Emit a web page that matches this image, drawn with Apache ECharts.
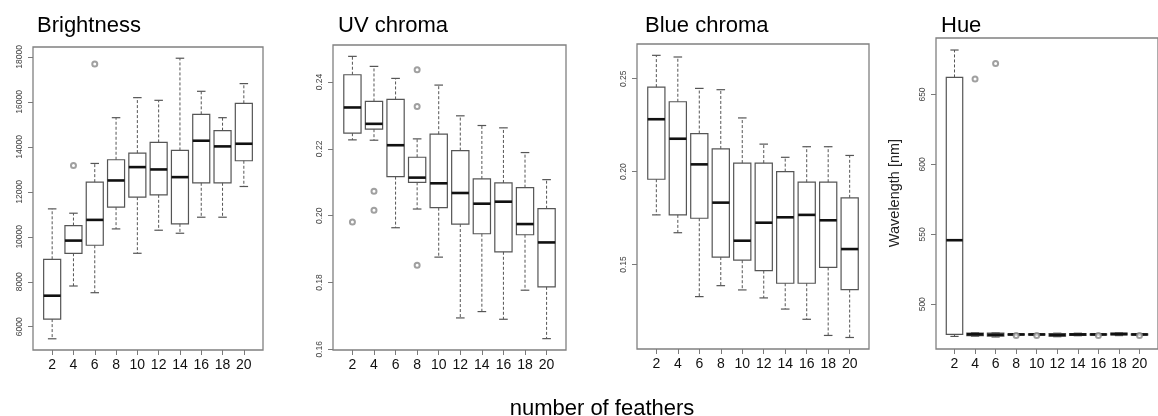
<!DOCTYPE html>
<html>
<head>
<meta charset="utf-8">
<script src="https://cdn.jsdelivr.net/npm/echarts@6/dist/echarts.min.js"></script>
<style>
html,body{margin:0;padding:0;background:#fff;}
#chart{width:1158px;height:416px;}
</style>
</head>
<body>
<div id="chart"></div>
<script>
// number of feathers (x categories)
const feathers = ['2','4','6','8','10','12','14','16','18','20'];

// Box statistics per category: [lower whisker, Q1, median, Q3, upper whisker]
const brightnessStats = [
  [5465, 6341, 7381, 9000, 11242],
  [7812, 9267, 9831, 10500, 11049],
  [7514, 9623, 10752, 12430, 13262],
  [10351, 11317, 12505, 13426, 15297],
  [9267, 11762, 13099, 13723, 16188],
  [10292, 11866, 12995, 14198, 16069],
  [10158, 10574, 12653, 13841, 17941],
  [10871, 12401, 14272, 15445, 16470],
  [10871, 12401, 14020, 14718, 15297],
  [12237, 13381, 14138, 15936, 16812]
];
// outliers: [category index (1-based), value]
const brightnessOutliers = [[2, 13173], [3, 17688]];

const uvStats = [
  [0.2227, 0.2247, 0.2324, 0.2422, 0.2477],
  [0.2226, 0.2259, 0.2275, 0.2342, 0.2447],
  [0.1964, 0.2117, 0.2211, 0.2348, 0.2411],
  [0.2020, 0.2100, 0.2114, 0.2175, 0.2230],
  [0.1876, 0.2024, 0.2097, 0.2244, 0.2391],
  [0.1694, 0.1975, 0.2068, 0.2195, 0.2299],
  [0.1713, 0.1946, 0.2036, 0.2110, 0.2270],
  [0.1690, 0.1892, 0.2042, 0.2098, 0.2263],
  [0.1777, 0.1943, 0.1975, 0.2084, 0.2189],
  [0.1632, 0.1787, 0.1920, 0.2021, 0.2108]
];
const uvOutliers = [[1, 0.1981], [2, 0.2073], [2, 0.2016], [4, 0.2437], [4, 0.2327], [4, 0.1852]];

const blueStats = [
  [0.1767, 0.1959, 0.2282, 0.2455, 0.2626],
  [0.1671, 0.1767, 0.2177, 0.2376, 0.2617],
  [0.1327, 0.1749, 0.2039, 0.2205, 0.2448],
  [0.1386, 0.1540, 0.1833, 0.2122, 0.2441],
  [0.1363, 0.1523, 0.1628, 0.2046, 0.2289],
  [0.1320, 0.1467, 0.1725, 0.2046, 0.2148],
  [0.1260, 0.1399, 0.1754, 0.2000, 0.2077],
  [0.1205, 0.1399, 0.1767, 0.1943, 0.2134],
  [0.1118, 0.1484, 0.1738, 0.1943, 0.2134],
  [0.1107, 0.1365, 0.1583, 0.1859, 0.2087]
];
const blueOutliers = [];

const hueStats = [
  [477.0, 478.5, 545.8, 662.2, 681.8],
  [477.2, 477.6, 478.5, 479.4, 479.6],
  [476.6, 477.2, 478.2, 479.3, 479.5],
  [477.8, 478.0, 478.4, 478.8, 479.0],
  [477.8, 478.0, 478.4, 478.8, 479.0],
  [476.8, 477.2, 478.0, 479.0, 479.3],
  [477.5, 477.8, 478.4, 479.1, 479.3],
  [477.8, 478.0, 478.4, 478.8, 479.0],
  [477.6, 478.0, 478.7, 479.3, 479.5],
  [477.8, 478.0, 478.4, 478.8, 479.0]
];
const hueOutliers = [[2, 661.0], [3, 672.2], [4, 477.6], [5, 477.6], [8, 477.6], [10, 477.6]];

// Axis tick values
const brightnessTicks = [6000, 8000, 10000, 12000, 14000, 16000, 18000];
const uvTicks = [0.16, 0.18, 0.20, 0.22, 0.24];
const blueTicks = [0.15, 0.20, 0.25];
const hueTicks = [500, 550, 600, 650];

const panelTitles = ['Brightness', 'UV chroma', 'Blue chroma', 'Hue'];

const FONT = '"Liberation Sans", Arial, sans-serif';
const BOXCOL = '#555';
const AXCOL = '#7a7a7a';

const grids = [
  {left: 33, top: 47, width: 230, height: 303},
  {left: 333, top: 45, width: 233, height: 305},
  {left: 637, top: 44, width: 232, height: 305},
  {left: 936, top: 38, width: 229, height: 311}
];
const yRanges = [[4966, 18440], [0.1598, 0.2511], [0.1045, 0.2687], [468.0, 690.4]];
const yTickSets = [brightnessTicks, uvTicks, blueTicks, hueTicks];
const yFmt = [v => String(v), v => v.toFixed(2), v => v.toFixed(2), v => String(v)];
const statsSets = [brightnessStats, uvStats, blueStats, hueStats];
const outlierSets = [brightnessOutliers, uvOutliers, blueOutliers, hueOutliers];
const catIdx = feathers.map((f, i) => i + 1);

function renderBox(params, api) {
  const x = api.value(0);
  const pLow = api.coord([x, api.value(1)]);
  const pQ1 = api.coord([x, api.value(2)]);
  const pMed = api.coord([x, api.value(3)]);
  const pQ3 = api.coord([x, api.value(4)]);
  const pHigh = api.coord([x, api.value(5)]);
  const w = api.size([0.8, 0])[0];
  const cx = pLow[0];
  const half = w / 2, cap = w / 4;
  const dashed = {stroke: BOXCOL, lineWidth: 1, lineDash: [3, 2], fill: null};
  const solid = {stroke: BOXCOL, lineWidth: 1.2, fill: null};
  return {
    type: 'group',
    children: [
      {type: 'line', shape: {x1: cx, y1: pQ3[1], x2: cx, y2: pHigh[1]}, style: dashed},
      {type: 'line', shape: {x1: cx, y1: pQ1[1], x2: cx, y2: pLow[1]}, style: dashed},
      {type: 'line', shape: {x1: cx - cap, y1: pHigh[1], x2: cx + cap, y2: pHigh[1]}, style: solid},
      {type: 'line', shape: {x1: cx - cap, y1: pLow[1], x2: cx + cap, y2: pLow[1]}, style: solid},
      {type: 'rect', shape: {x: cx - half, y: pQ3[1], width: w, height: pQ1[1] - pQ3[1]}, style: {stroke: BOXCOL, lineWidth: 1.2, fill: 'rgba(0,0,0,0)'}},
      {type: 'line', shape: {x1: cx - half, y1: pMed[1], x2: cx + half, y2: pMed[1]}, style: {stroke: '#111', lineWidth: 2.6}}
    ]
  };
}

const xAxes = [], yAxes = [], series = [];
grids.forEach((g, i) => {
  xAxes.push({
    gridIndex: i, type: 'value', min: 0.1, max: 10.9,
    axisLine: {show: false},
    splitLine: {show: false},
    axisTick: {show: true, customValues: catIdx, length: 5, lineStyle: {color: AXCOL, width: 1}},
    axisLabel: {customValues: catIdx, formatter: v => feathers[Math.round(v) - 1], color: '#111',
      fontFamily: FONT, fontSize: 14, margin: 8}
  });
  yAxes.push({
    gridIndex: i, type: 'value', min: yRanges[i][0], max: yRanges[i][1],
    axisLine: {show: false},
    splitLine: {show: false},
    axisTick: {show: true, customValues: yTickSets[i], length: 5, lineStyle: {color: AXCOL, width: 1}},
    axisLabel: {customValues: yTickSets[i], formatter: yFmt[i], rotate: 90, color: '#444',
      fontFamily: FONT, fontSize: 8.5, margin: 9}
  });
  series.push({
    type: 'custom', xAxisIndex: i, yAxisIndex: i,
    renderItem: renderBox,
    data: statsSets[i].map((s, k) => [k + 1, s[0], s[1], s[2], s[3], s[4]]),
    silent: true, animation: false, clip: false
  });
  series.push({
    type: 'scatter', xAxisIndex: i, yAxisIndex: i,
    symbol: 'emptyCircle', symbolSize: 5,
    itemStyle: {color: '#888', borderColor: '#888', borderWidth: 0.8},
    data: outlierSets[i], silent: true, animation: false, z: 5
  });
});

const titleX = [37, 338, 645, 941];
const graphics = panelTitles.map((t, i) => ({
  type: 'text', x: titleX[i], y: 26,
  style: {text: t, fontFamily: FONT, fontSize: 22, fill: '#000', verticalAlign: 'middle'}
}));
graphics.push({
  type: 'text', x: 602, y: 409,
  style: {text: 'number of feathers', fontFamily: FONT, fontSize: 22, fill: '#000', align: 'center', verticalAlign: 'middle'}
});
graphics.push({
  type: 'text', x: 895, y: 193, rotation: Math.PI / 2,
  style: {text: 'Wavelength [nm]', fontFamily: FONT, fontSize: 14.5, fill: '#222', align: 'center', verticalAlign: 'middle'}
});

const chart = echarts.init(document.getElementById('chart'), null, {renderer: 'canvas'});
chart.setOption({
  animation: false,
  backgroundColor: '#fff',
  grid: grids.map(g => Object.assign({show: true, borderColor: '#808080', borderWidth: 1.3, backgroundColor: 'transparent'}, g)),
  xAxis: xAxes,
  yAxis: yAxes,
  series: series,
  graphic: graphics
});
</script>
</body>
</html>
